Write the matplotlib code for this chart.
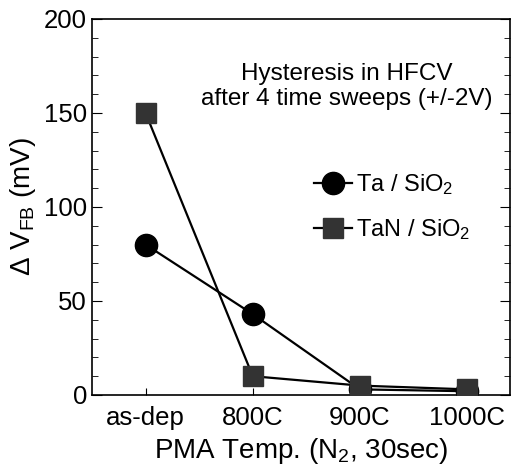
import matplotlib
matplotlib.use('Agg')
import matplotlib.pyplot as plt
from matplotlib.ticker import MultipleLocator

plt.rcParams['font.family'] = ['Liberation Sans', 'DejaVu Sans']
plt.rcParams['mathtext.fontset'] = 'custom'
plt.rcParams['mathtext.rm'] = 'Liberation Sans'
plt.rcParams['mathtext.it'] = 'Liberation Sans'

# data
temps = ['as-dep', '800C', '900C', '1000C']
ta_sio2 = [80, 43, 3, 2]
tan_sio2 = [150, 10, 5, 3]

fig = plt.figure(figsize=(5.18, 4.72), dpi=100)
ax = fig.add_axes([92/518, 1 - 395/472, (510-92)/518, (395-19)/472])

x = range(len(temps))
ax.plot(x, ta_sio2, '-o', color='black', lw=1.6, ms=16, label=r'Ta / SiO$_2$', zorder=3)
ax.plot(x, tan_sio2, '-s', color='black', mfc='#333333', mec='#333333', lw=1.6, ms=15,
        label=r'TaN / SiO$_2$', zorder=3)

ax.set_xlim(-0.5, 3.4)
ax.set_ylim(0, 200)
ax.set_xticks(list(x))
ax.set_xticklabels(temps)
ax.yaxis.set_major_locator(MultipleLocator(50))
ax.yaxis.set_minor_locator(MultipleLocator(10))
ax.tick_params(axis='y', which='both', direction='in', left=True, right=True, labelsize=18.5)
ax.tick_params(axis='y', which='major', length=7)
ax.tick_params(axis='y', which='minor', length=4)
ax.tick_params(axis='x', direction='in', length=5, labelsize=18.5, pad=8)

ax.set_xlabel(r'PMA Temp. (N$_2$, 30sec)', fontsize=20, labelpad=4)
ax.set_ylabel(r'$\Delta$ V$_{\mathrm{FB}}$ (mV)', fontsize=20, labelpad=4)

ax.text(0.61, 0.82, 'Hysteresis in HFCV\nafter 4 time sweeps (+/-2V)', transform=ax.transAxes,
        ha='center', va='center', fontsize=17.5, linespacing=1.15)

ax.legend(loc='upper left', bbox_to_anchor=(0.48, 0.65), frameon=False, fontsize=17,
          handlelength=1.6, handletextpad=0.2, labelspacing=0.85, markerscale=1.0)

for s in ax.spines.values():
    s.set_linewidth(1.2)

fig.savefig('out.png', dpi=100)
